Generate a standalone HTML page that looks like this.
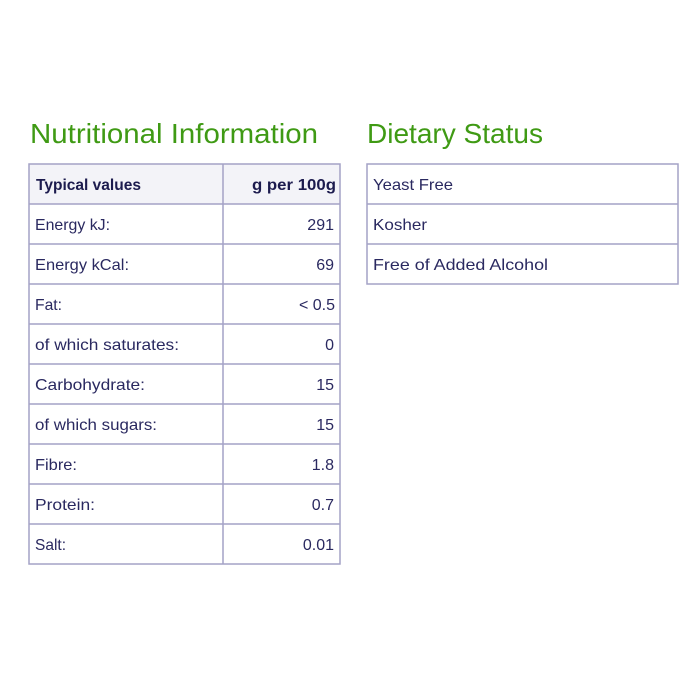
<!DOCTYPE html>
<html>
<head>
<meta charset="utf-8">
<style>
  html, body { margin: 0; padding: 0; background: #ffffff; }
  svg { display: block; }
  .t { font-family: "Liberation Sans", "DejaVu Sans", sans-serif; }
</style>
</head>
<body>
<svg width="700" height="700" viewBox="0 0 700 700" xmlns="http://www.w3.org/2000/svg">
  <rect width="700" height="700" fill="#ffffff"/>

  <!-- Titles -->
  <text class="t" x="30" y="143" font-size="28" fill="#3f9a14" textLength="288" lengthAdjust="spacingAndGlyphs">Nutritional Information</text>
  <text class="t" x="367" y="143" font-size="28" fill="#3f9a14" textLength="176" lengthAdjust="spacingAndGlyphs">Dietary Status</text>

  <!-- Nutrition table -->
  <rect x="29" y="164" width="311" height="40" fill="#f3f3f8"/>
  <g stroke="#a4a2c6" stroke-width="1.5" fill="none">
    <rect x="29" y="164" width="311" height="400"/>
    <line x1="223" y1="164" x2="223" y2="564"/>
    <line x1="29" y1="204" x2="340" y2="204"/>
    <line x1="29" y1="244" x2="340" y2="244"/>
    <line x1="29" y1="284" x2="340" y2="284"/>
    <line x1="29" y1="324" x2="340" y2="324"/>
    <line x1="29" y1="364" x2="340" y2="364"/>
    <line x1="29" y1="404" x2="340" y2="404"/>
    <line x1="29" y1="444" x2="340" y2="444"/>
    <line x1="29" y1="484" x2="340" y2="484"/>
    <line x1="29" y1="524" x2="340" y2="524"/>
  </g>

  <g class="t" font-size="16" fill="#1c1b4e">
    <text x="36" y="190" font-weight="bold" textLength="105" lengthAdjust="spacingAndGlyphs">Typical values</text>
    <text x="252" y="190" font-weight="bold" textLength="84" lengthAdjust="spacingAndGlyphs">g per 100g</text>
  </g>

  <g class="t" font-size="16" fill="#2a2960">
    <text x="35" y="230" textLength="75" lengthAdjust="spacingAndGlyphs">Energy kJ:</text>
    <text x="35" y="270" textLength="94" lengthAdjust="spacingAndGlyphs">Energy kCal:</text>
    <text x="35" y="310" textLength="27" lengthAdjust="spacingAndGlyphs">Fat:</text>
    <text x="35" y="350" textLength="144" lengthAdjust="spacingAndGlyphs">of which saturates:</text>
    <text x="35" y="390" textLength="110" lengthAdjust="spacingAndGlyphs">Carbohydrate:</text>
    <text x="35" y="430" textLength="122" lengthAdjust="spacingAndGlyphs">of which sugars:</text>
    <text x="35" y="470" textLength="42" lengthAdjust="spacingAndGlyphs">Fibre:</text>
    <text x="35" y="510" textLength="60" lengthAdjust="spacingAndGlyphs">Protein:</text>
    <text x="35" y="550" textLength="31" lengthAdjust="spacingAndGlyphs">Salt:</text>

    <g text-anchor="end">
      <text x="334" y="230">291</text>
      <text x="334" y="270">69</text>
      <text x="335" y="310">&lt; 0.5</text>
      <text x="334" y="350">0</text>
      <text x="334" y="390">15</text>
      <text x="334" y="430">15</text>
      <text x="334" y="470">1.8</text>
      <text x="334" y="510">0.7</text>
      <text x="334" y="550">0.01</text>
    </g>
  </g>

  <!-- Dietary table -->
  <g stroke="#a4a2c6" stroke-width="1.5" fill="none">
    <rect x="367" y="164" width="311" height="120"/>
    <line x1="367" y1="204" x2="678" y2="204"/>
    <line x1="367" y1="244" x2="678" y2="244"/>
  </g>
  <g class="t" font-size="16" fill="#2a2960">
    <text x="373" y="190" textLength="80" lengthAdjust="spacingAndGlyphs">Yeast Free</text>
    <text x="373" y="230" textLength="54" lengthAdjust="spacingAndGlyphs">Kosher</text>
    <text x="373" y="270" textLength="175" lengthAdjust="spacingAndGlyphs">Free of Added Alcohol</text>
  </g>
</svg>
</body>
</html>
